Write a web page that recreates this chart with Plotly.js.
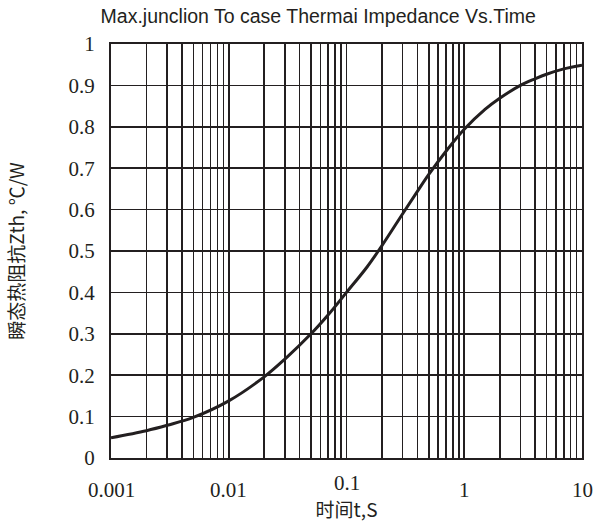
<!DOCTYPE html>
<html>
<head>
<meta charset="utf-8">
<script src="https://cdn.plot.ly/plotly-3.0.1.min.js"></script>
<style>html,body{margin:0;padding:0;background:#fff;}#chart{width:605px;height:522px;}</style>
</head>
<body>
<div id="chart"></div>
<script>
// Data
const timeS = [0.001, 0.002, 0.003, 0.005, 0.01, 0.02, 0.03, 0.05, 0.07, 0.1, 0.15, 0.2, 0.3, 0.4, 0.5, 0.7, 1, 1.5, 2, 3, 4, 5, 7, 10];
const zth   = [0.049, 0.066, 0.079, 0.098, 0.138, 0.196, 0.239, 0.300, 0.346, 0.400, 0.462, 0.513, 0.590, 0.644, 0.685, 0.741, 0.794, 0.842, 0.869, 0.900, 0.916, 0.927, 0.940, 0.949];

const decadeLabels = ["0.001", "0.01", "0.1", "1", "10"];
const decades = [0.001, 0.01, 0.1, 1, 10];
const labelDrop = [32, 32, 25, 32, 32];
const yTicks = [0, 0.1, 0.2, 0.3, 0.4, 0.5, 0.6, 0.7, 0.8, 0.9, 1];

// Grid positions: 1..9 multiples in each decade
const xGridVals = [];
decades.forEach((d, i) => {
  for (let m = 1; m <= 9; m++) {
    if (i === decades.length - 1 && m > 1) break;
    xGridVals.push(d * m);
  }
});

const ink = "#231f20";
const serif = "Liberation Serif, Times New Roman, serif";
const cjk = "Noto Sans CJK SC, sans-serif";

const trace = {
  x: timeS, y: zth, type: "scatter", mode: "lines",
  line: {color: ink, width: 3, shape: "spline", smoothing: 1},
  hoverinfo: "skip"
};

const xLabelAnns = decades.map((d, i) => ({
  x: Math.log10(d), xref: "x", y: 0, yref: "paper",
  text: decadeLabels[i], showarrow: false,
  xanchor: "center", yanchor: "middle", yshift: -labelDrop[i],
  font: {family: serif, size: 21, color: ink}
}));

const layout = {
  width: 605, height: 522,
  paper_bgcolor: "#fff", plot_bgcolor: "#fff",
  margin: {l: 111, r: 23, t: 44, b: 64},
  showlegend: false,
  font: {family: serif, color: ink},
  title: {
    text: "Max.junclion To case Thermai Impedance Vs.Time",
    x: 0.526, xanchor: "center", y: 0.969, yanchor: "middle",
    font: {family: "Liberation Sans, Arial, sans-serif", size: 19.5, color: ink}
  },
  xaxis: {
    type: "log", range: [-3, 1],
    tickmode: "array", tickvals: xGridVals, showticklabels: false,
    showgrid: true, gridcolor: ink, gridwidth: 1.6,
    showline: true, linecolor: ink, linewidth: 2, mirror: true,
    ticks: "", zeroline: false,
    title: {text: "时间t,S", standoff: 45,
      font: {family: cjk, size: 19, color: ink}}
  },
  yaxis: {
    range: [0, 1],
    tickmode: "array", tickvals: yTicks, ticktext: yTicks.map(String),
    showgrid: true, gridcolor: ink, gridwidth: 1.6,
    showline: true, linecolor: ink, linewidth: 2, mirror: true,
    ticks: "", zeroline: false,
    tickfont: {family: serif, size: 21, color: ink},
    ticklabelstandoff: 10,
    title: {text: "瞬态热阻抗Zth, ℃/W", standoff: 39,
      font: {family: cjk, size: 19, color: ink}}
  },
  annotations: xLabelAnns
};

Plotly.newPlot("chart", [trace], layout, {staticPlot: true, displayModeBar: false});
</script>
</body>
</html>
